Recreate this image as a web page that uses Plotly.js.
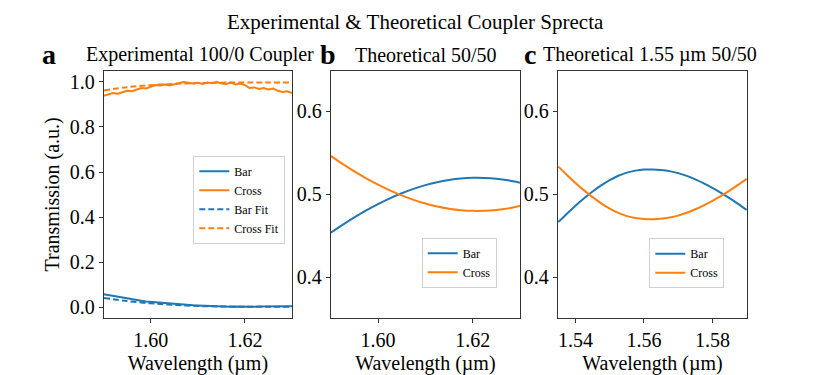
<!DOCTYPE html>
<html>
<head>
<meta charset="utf-8">
<script src="https://cdn.plot.ly/plotly-3.0.1.min.js"></script>
<style>
  html, body { margin: 0; padding: 0; background: #fff; }
  #grafico { width: 830px; height: 375px; }
</style>
</head>
<body>
<div id="grafico"></div>
<script>
// ---------------------------------------------------------------------
// DATOS
// ---------------------------------------------------------------------
// Panel a: medida experimental, paso 1 nm
const lambdaExp = [
  1.590, 1.591, 1.592, 1.593, 1.594, 1.595, 1.596, 1.597, 1.598, 1.599,
  1.600, 1.601, 1.602, 1.603, 1.604, 1.605, 1.606, 1.607, 1.608, 1.609,
  1.610, 1.611, 1.612, 1.613, 1.614, 1.615, 1.616, 1.617, 1.618, 1.619,
  1.620, 1.621, 1.622, 1.623, 1.624, 1.625, 1.626, 1.627, 1.628, 1.629, 1.630,
];
const barExp = [
  0.058, 0.054, 0.050, 0.046, 0.042, 0.038, 0.035, 0.032, 0.029, 0.026,
  0.024, 0.022, 0.020, 0.018, 0.016, 0.014, 0.013, 0.011, 0.010, 0.009,
  0.008, 0.007, 0.006, 0.005, 0.005, 0.004, 0.004, 0.003, 0.004, 0.003,
  0.003, 0.004, 0.003, 0.004, 0.004, 0.003, 0.004, 0.005, 0.004, 0.005, 0.005,
];
const crossExp = [
  0.938, 0.945, 0.950, 0.947, 0.955, 0.960, 0.958, 0.966, 0.972, 0.970,
  0.978, 0.985, 0.983, 0.988, 0.984, 0.990, 0.993, 0.999, 0.996, 0.992,
  0.995, 0.990, 0.997, 0.993, 1.000, 0.992, 0.990, 0.996, 0.988, 0.992,
  0.985, 0.972, 0.975, 0.968, 0.972, 0.966, 0.970, 0.960, 0.955, 0.958, 0.950,
];

// Panel a: ajuste
const lambdaFit = [1.590, 1.595, 1.600, 1.605, 1.610, 1.615, 1.620, 1.625, 1.630];
const barFit = [0.042, 0.028, 0.018, 0.011, 0.006, 0.004, 0.003, 0.003, 0.003];
const crossFit = [0.961, 0.976, 0.985, 0.991, 0.994, 0.996, 0.997, 0.997, 0.996];

// Panel b: teorico 50/50
const lambdaB = [
  1.5900, 1.5925, 1.5950, 1.5975, 1.6000, 1.6025, 1.6050, 1.6075, 1.6100,
  1.6125, 1.6150, 1.6175, 1.6200, 1.6225, 1.6250, 1.6275, 1.6300,
];
const barB = [
  0.4537, 0.4633, 0.4723, 0.4807, 0.4883, 0.4952, 0.5013, 0.5066, 0.5111,
  0.5147, 0.5173, 0.5191, 0.5199, 0.5198, 0.5188, 0.5169, 0.5140,
];
const crossB = [
  0.5463, 0.5367, 0.5277, 0.5193, 0.5117, 0.5048, 0.4987, 0.4934, 0.4889,
  0.4853, 0.4827, 0.4809, 0.4801, 0.4802, 0.4812, 0.4831, 0.4860,
];

// Panel c: teorico 1.55 um 50/50
const lambdaC = [
  1.5350, 1.5375, 1.5400, 1.5425, 1.5450, 1.5475, 1.5500, 1.5525, 1.5550,
  1.5575, 1.5600, 1.5625, 1.5650, 1.5675, 1.5700, 1.5725, 1.5750, 1.5775,
  1.5800, 1.5825, 1.5850, 1.5875, 1.5900,
];
const barC = [
  0.4666, 0.4766, 0.4862, 0.4952, 0.5034, 0.5108, 0.5172, 0.5224, 0.5262,
  0.5286, 0.5298, 0.5300, 0.5294, 0.5280, 0.5256, 0.5222, 0.5180, 0.5132,
  0.5078, 0.5019, 0.4955, 0.4886, 0.4813,
];
const crossC = [
  0.5334, 0.5234, 0.5138, 0.5048, 0.4966, 0.4892, 0.4828, 0.4776, 0.4738,
  0.4714, 0.4702, 0.4700, 0.4706, 0.4720, 0.4744, 0.4778, 0.4820, 0.4868,
  0.4922, 0.4981, 0.5045, 0.5114, 0.5187,
];

const ticksYa = [0.0, 0.2, 0.4, 0.6, 0.8, 1.0];
const ticksYbc = [0.4, 0.5, 0.6];
const ticksXab = [1.60, 1.62];
const ticksXc = [1.54, 1.56, 1.58];

// ---------------------------------------------------------------------
// ESTILO
// ---------------------------------------------------------------------
const AZUL = "#1f77b4";
const NARANJA = "#ff7f0e";
const FUENTE = "Liberation Serif, Times New Roman, serif";
const H = 375, W = 830;

function ejeBase(extra) {
  return Object.assign({
    showgrid: false,
    zeroline: false,
    showline: true,
    mirror: true,
    linecolor: "#333",
    linewidth: 1,
    ticks: "outside",
    ticklen: 4,
    tickcolor: "#333",
    tickfont: { family: FUENTE, size: 20, color: "#000" },
    tickmode: "array",
  }, extra);
}

function leyenda(x, y) {
  return {
    x: x, y: y, xanchor: "left", yanchor: "top",
    xref: "paper", yref: "paper",
    bgcolor: "rgba(255,255,255,0.8)",
    bordercolor: "#d0d0d0",
    borderwidth: 1,
    itemwidth: 30,
    tracegroupgap: 0,
    font: { family: FUENTE, size: 12, color: "#000" },
  };
}

// las curvas teoricas son suaves: se dibujan con spline
function linea(x, y, nombre, color, ejes, ley, discontinua, suave) {
  return {
    x: x, y: y, type: "scatter", mode: "lines", name: nombre,
    xaxis: ejes[0], yaxis: ejes[1], legend: ley,
    line: {
      color: color, width: 2,
      dash: discontinua ? "6px,3px" : "solid",
      shape: suave ? "spline" : "linear",
      smoothing: 1,
    },
  };
}

const trazas = [
  linea(lambdaExp, barExp, "Bar", AZUL, ["x", "y"], "legend", false, false),
  linea(lambdaExp, crossExp, "Cross", NARANJA, ["x", "y"], "legend", false, false),
  linea(lambdaFit, barFit, "Bar Fit", AZUL, ["x", "y"], "legend", true, true),
  linea(lambdaFit, crossFit, "Cross Fit", NARANJA, ["x", "y"], "legend", true, true),
  linea(lambdaB, barB, "Bar", AZUL, ["x2", "y2"], "legend2", false, true),
  linea(lambdaB, crossB, "Cross", NARANJA, ["x2", "y2"], "legend2", false, true),
  linea(lambdaC, barC, "Bar", AZUL, ["x3", "y3"], "legend3", false, true),
  linea(lambdaC, crossC, "Cross", NARANJA, ["x3", "y3"], "legend3", false, true),
];

// dominios en pixeles -> fraccion del papel
const dy = [(H - 318) / H, (H - 70.7) / H];
const tituloX = { text: "Wavelength (µm)", font: { family: FUENTE, size: 20, color: "#000" }, standoff: 6 };

const layout = {
  width: W, height: H,
  margin: { l: 0, r: 0, t: 0, b: 0 },
  paper_bgcolor: "#fff",
  plot_bgcolor: "#fff",
  showlegend: true,
  xaxis: ejeBase({ domain: [103.7 / W, 292 / W], range: [1.59, 1.63], tickvals: ticksXab, tickformat: ".2f", anchor: "y", title: tituloX }),
  yaxis: ejeBase({
    domain: dy, range: [-0.047, 1.049], tickvals: ticksYa, tickformat: ".1f", anchor: "x",
    title: { text: "Transmission (a.u.)", font: { family: FUENTE, size: 20, color: "#000" }, standoff: 4 },
  }),
  xaxis2: ejeBase({ domain: [330.7 / W, 520 / W], range: [1.59, 1.63], tickvals: ticksXab, tickformat: ".2f", anchor: "y2", title: tituloX }),
  yaxis2: ejeBase({ domain: dy, range: [0.351, 0.649], tickvals: ticksYbc, tickformat: ".1f", anchor: "x2" }),
  xaxis3: ejeBase({ domain: [557.7 / W, 747.3 / W], range: [1.5348, 1.5902], tickvals: ticksXc, tickformat: ".2f", anchor: "y3", title: tituloX }),
  yaxis3: ejeBase({ domain: dy, range: [0.351, 0.649], tickvals: ticksYbc, tickformat: ".1f", anchor: "x3" }),
  legend: leyenda(193.3 / W, (H - 155.7) / H),
  legend2: leyenda(421.7 / W, (H - 237.7) / H),
  legend3: leyenda(649.3 / W, (H - 238.3) / H),
  annotations: [
    { text: "Experimental & Theoretical Coupler Sprecta", x: 0.5, y: (H - 22) / H, font: { size: 21 } },
    { text: "Experimental 100/0 Coupler", x: 200 / W, y: (H - 55) / H, font: { size: 20 } },
    { text: "Theoretical 50/50", x: 426 / W, y: (H - 55) / H, font: { size: 20 } },
    { text: "Theoretical 1.55 µm 50/50", x: 650 / W, y: (H - 55) / H, font: { size: 20 } },
    { text: "<b>a</b>", x: 48.5 / W, y: (H - 55) / H, font: { size: 28 } },
    { text: "<b>b</b>", x: 328 / W, y: (H - 55) / H, font: { size: 28 } },
    { text: "<b>c</b>", x: 530 / W, y: (H - 55) / H, font: { size: 28 } },
  ].map((a) => Object.assign({
    xref: "paper", yref: "paper", xanchor: "center", yanchor: "middle", showarrow: false,
  }, a, { font: Object.assign({ family: FUENTE, color: "#000" }, a.font) })),
};

Plotly.newPlot("grafico", trazas, layout, { staticPlot: true, displayModeBar: false });
</script>
</body>
</html>
